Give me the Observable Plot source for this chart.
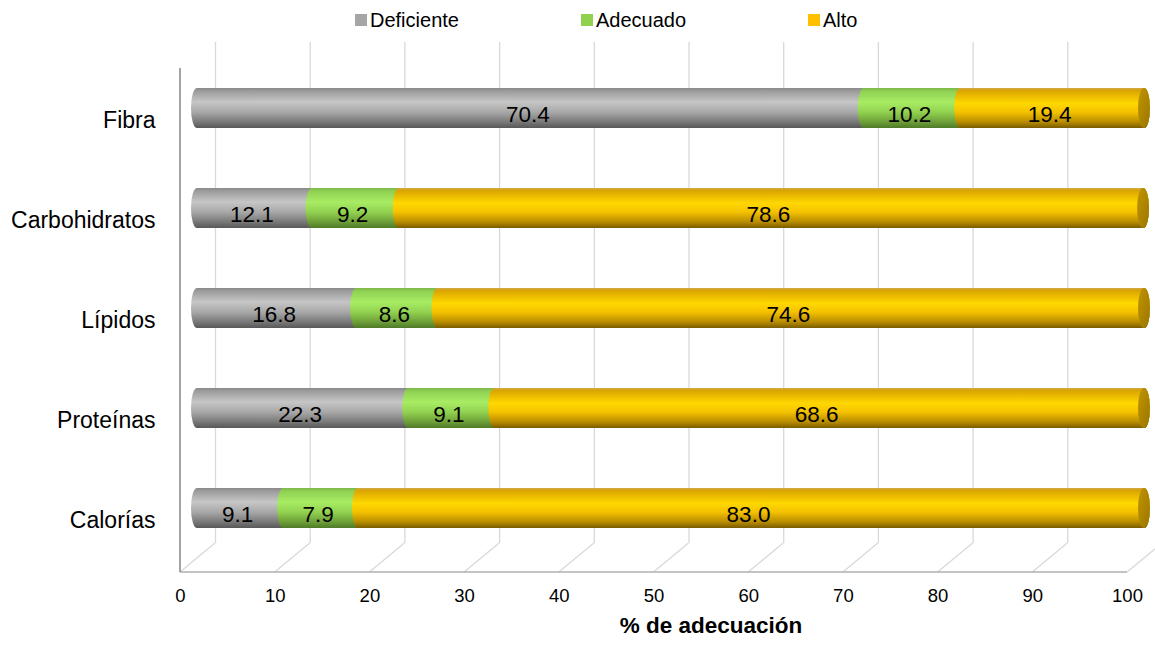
<!DOCTYPE html>
<html><head><meta charset="utf-8">
<script src="https://cdn.jsdelivr.net/npm/d3@7"></script>
<script src="https://cdn.jsdelivr.net/npm/@observablehq/plot@0.6"></script>
<style>
body{margin:0;background:#fff;font-family:"Liberation Sans",Arial,sans-serif;}
#wrap{position:relative;width:1155px;height:645px;overflow:hidden;}
#wrap svg{position:absolute;left:0;top:0;}
#legend{position:absolute;top:0;left:0;width:1155px;height:40px;z-index:2;}
.item{position:absolute;top:8px;display:flex;align-items:center;font-size:20px;line-height:24px;color:#000;}
.sw{width:12px;height:12px;margin-right:3px;}
</style></head><body><div id="wrap"><div id="legend"></div></div>
<script>
const categories = ["Fibra", "Carbohidratos", "Lípidos", "Proteínas", "Calorías"];
const series = ["Deficiente", "Adecuado", "Alto"];
const deficiente = [70.4, 12.1, 16.8, 22.3, 9.1];
const adecuado = [10.2, 9.2, 8.6, 9.1, 7.9];
const alto = [19.4, 78.6, 74.6, 68.6, 83.0];
const xTicks = [0, 10, 20, 30, 40, 50, 60, 70, 80, 90, 100];
const xTitle = "% de adecuación";
const swatchColors = ["#a6a6a6", "#92d050", "#ffc000"];
const gradIds = ["gDef", "gAde", "gAlt"];
const gradStops = [
  [[0, "#8a8a8a"], [0.08, "#9c9c9c"], [0.35, "#c6c6c6"], [0.6, "#a8a8a8"], [0.85, "#787878"], [1, "#585858"]],
  [[0, "#7db84a"], [0.08, "#8fd052"], [0.35, "#a8ec64"], [0.6, "#92d250"], [0.85, "#6c9e38"], [1, "#4f7a28"]],
  [[0, "#cfa850"], [0.06, "#d9a400"], [0.38, "#ffd800"], [0.6, "#f4c200"], [0.85, "#b88c00"], [1, "#7a5c00"]]
];
const legendLefts = [355, 581, 808];

// build table
const valuesBySeries = [deficiente, adecuado, alto];
const totals = categories.map((c, i) => d3.sum(valuesBySeries, v => v[i]));
const rows = [];
series.forEach((s, si) => {
  categories.forEach((c, ci) => {
    const start = d3.sum(valuesBySeries.slice(0, si), v => v[ci]);
    const value = valuesBySeries[si][ci];
    rows.push({category: c, series: s, value, start, end: start + value, mid: start + value / 2, total: totals[ci]});
  });
});
const caps = categories.map((c, i) => ({category: c, total: totals[i]}));

// legend
const legend = document.getElementById("legend");
series.forEach((s, i) => {
  const it = document.createElement("div");
  it.className = "item";
  it.style.left = legendLefts[i] + "px";
  it.innerHTML = `<span class="sw" style="background:${swatchColors[i]}"></span><span>${s}</span>`;
  legend.appendChild(it);
});

const depth = {dx: 35, dy: 29};
const frontShift = -17, backShift = 18;

const defsMark = () => {
  const g = d3.create("svg:g");
  const defs = g.append("defs");
  gradIds.forEach((id, i) => {
    const lg = defs.append("linearGradient").attr("id", id).attr("x1", 0).attr("y1", 0).attr("x2", 0).attr("y2", 1);
    gradStops[i].forEach(([o, c]) => lg.append("stop").attr("offset", o).attr("stop-color", c));
  });
  const cg = defs.append("linearGradient").attr("id", "gCap").attr("x1", 0).attr("y1", 0).attr("x2", 1).attr("y2", 1);
  cg.append("stop").attr("offset", 0).attr("stop-color", "#c09400");
  cg.append("stop").attr("offset", 1).attr("stop-color", "#9c7600");
  return g.node();
};

const floorMark = (index, scales, values, dims) => {
  const x = scales.x;
  const g = d3.create("svg:g").attr("fill", "none");
  const yBack = dims.height - dims.marginBottom;
  const yFront = yBack + depth.dy;
  g.selectAll("line.d").data(xTicks).join("line")
    .attr("x1", t => x(t) + frontShift).attr("y1", yFront)
    .attr("x2", t => x(t) + backShift).attr("y2", yBack)
    .attr("stroke", "#d9d9d9").attr("stroke-width", 1.3);
  g.append("line")
    .attr("x1", x(0) + frontShift).attr("x2", x(100) + frontShift)
    .attr("y1", yFront).attr("y2", yFront)
    .attr("stroke", "#b0b0b0").attr("stroke-width", 1.3);
  g.append("line")
    .attr("x1", x(0) + frontShift).attr("x2", x(0) + frontShift)
    .attr("y1", dims.marginTop + depth.dy - 3).attr("y2", yFront)
    .attr("stroke", "#868686").attr("stroke-width", 1.5);
  return g.node();
};

const plot = Plot.plot({
  width: 1155,
  height: 645,
  marginLeft: 180,
  marginRight: 0,
  marginTop: 42,
  marginBottom: 102,
  style: {fontFamily: "'Liberation Sans', Arial, sans-serif", fontSize: "18px", color: "#000", background: "transparent"},
  x: {domain: [0, 100], range: [197, 1144], axis: null},
  y: {domain: categories, range: [56, 560], paddingInner: 0.6, paddingOuter: 0.3, axis: null},
  color: {type: "ordinal", domain: series, range: gradIds.map(id => `url(#${id})`)},
  marks: [
    defsMark,
    Plot.ruleX(xTicks, {x: d => d, stroke: "#d9d9d9", strokeWidth: 1.3, dx: backShift}),
    floorMark,
    Plot.barX(rows, {x1: "start", x2: "total", y: "category", fill: "series", rx: 6, ry: 20, insetLeft: -6, insetRight: -6}),
    Plot.barX(caps, {x1: "total", x2: "total", y: "category", fill: "url(#gCap)", rx: 6, ry: 20, insetLeft: -6, insetRight: -6}),
    Plot.text(rows, {x: "mid", y: "category", text: d => d.value.toFixed(1), fontSize: 22.5, fill: "#000", dx: -3, dy: 6}),
    Plot.axisY({tickSize: 0, tickPadding: 25, fontSize: 23, dy: 12, label: null}),
    Plot.axisX({ticks: xTicks, tickSize: 0, tickPadding: 45, fontSize: 18.5, dx: frontShift, label: null, tickFormat: d => String(d)}),
    Plot.text([xTitle], {text: d => d, frameAnchor: "bottom", dx: 43, dy: 89, fontSize: 22.5, fontWeight: "bold", fill: "#000"})
  ]
});
document.getElementById("wrap").appendChild(plot);
</script>
</body></html>
